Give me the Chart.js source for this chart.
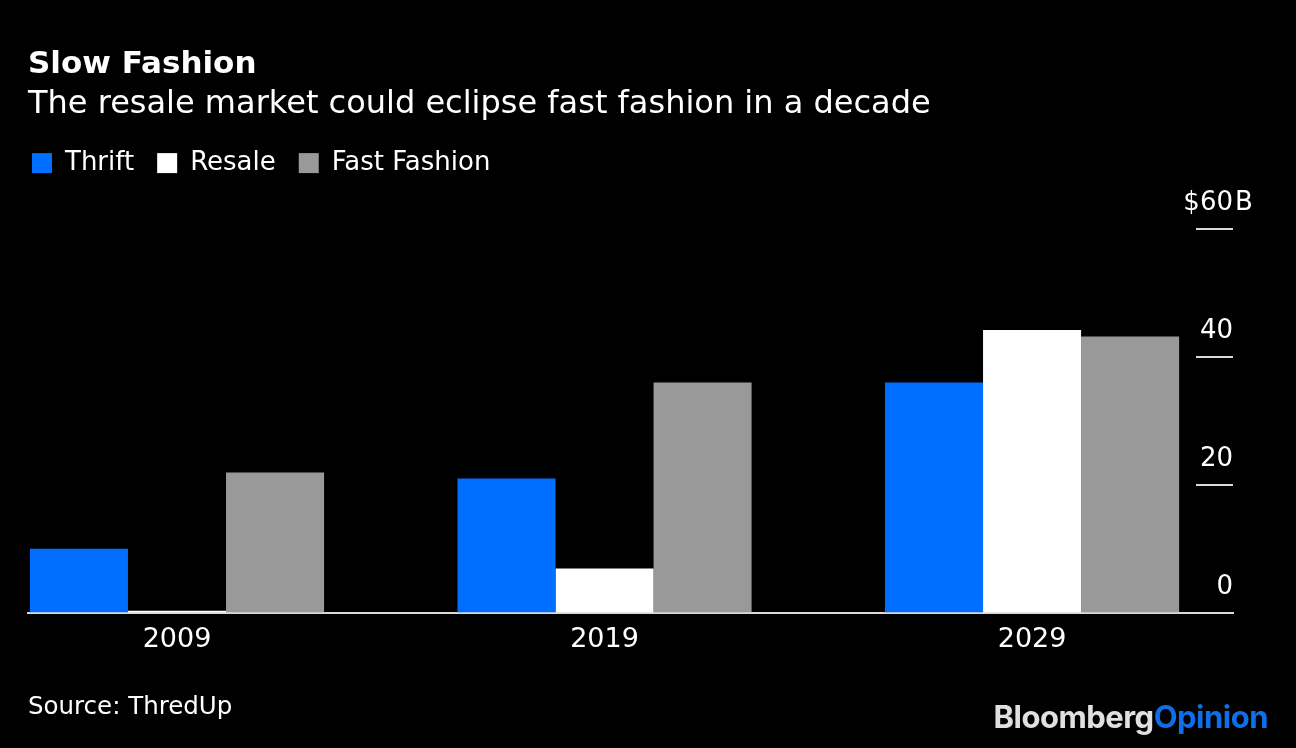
<!DOCTYPE html>
<html>
<head>
<meta charset="utf-8">
<script src="https://cdn.jsdelivr.net/npm/chart.js@4.4.1/dist/chart.umd.min.js"></script>
<style>
  html, body { margin: 0; padding: 0; background: #000; }
  #wrap { width: 1296px; height: 748px; position: relative; }
</style>
</head>
<body>
<div id="wrap"><canvas id="chart" width="1296" height="748"></canvas></div>
<script>
// ----- data (US$ billions) -----
const years = ["2009", "2019", "2029"];
const thrift = [10, 21, 36];
const resale = [0.3, 6.9, 44.2];
const fastFashion = [21.9, 36, 43.2];
const yTicks = [0, 20, 40, 60];

const FONT = "'DejaVu Sans', 'Liberation Sans', sans-serif";
const LOGO_FONT = "Inter, 'Liberation Sans', sans-serif";

function toPoints(values) {
  return values.map((v, i) => ({ x: i, y: v }));
}

// extra room between legend and plot, and pull legend flush left
const legendTweak = {
  id: 'legendTweak',
  beforeInit(chart) {
    const fit = chart.legend.fit;
    chart.legend.fit = function () {
      fit.call(this);
      this.height += 43;
    };
  },
  afterLayout(chart) {
    const shift = chart.options.plugins.legend.labels.padding - 4;
    chart.legend.left -= shift;
    chart.legend.right -= shift;
  }
};

// short tick marks + labels on the right, like the original
const rightAxis = {
  id: 'rightAxis',
  afterDraw(chart) {
    const { ctx, chartArea, scales: { y } } = chart;
    const right = chartArea.right;
    ctx.save();
    ctx.strokeStyle = '#d9d9d9';
    ctx.lineWidth = 2;
    ctx.fillStyle = '#ffffff';
    ctx.font = '26px ' + FONT;
    ctx.textBaseline = 'alphabetic';
    yTicks.forEach((t, i) => {
      const py = Math.round(y.getPixelForValue(t));
      if (t !== 0) {
        ctx.beginPath();
        ctx.moveTo(right - 37, py);
        ctx.lineTo(right, py);
        ctx.stroke();
      }
      const label = String(t);
      ctx.textAlign = 'right';
      ctx.fillText(label, right, py - 19);
      if (i === yTicks.length - 1) {
        const w = ctx.measureText(label).width;
        ctx.fillText('$', right - w, py - 19);
        ctx.textAlign = 'left';
        ctx.fillText('B', right + 2, py - 19);
      }
    });
    ctx.restore();
  }
};

// source line and logo
const footer = {
  id: 'footer',
  afterDraw(chart) {
    const { ctx } = chart;
    ctx.save();
    ctx.textBaseline = 'middle';
    ctx.fillStyle = '#ffffff';
    ctx.font = '24.5px ' + FONT;
    ctx.textAlign = 'left';
    ctx.fillText('Source: ThredUp', 28, 708);

    ctx.font = 'bold 31px ' + LOGO_FONT;
    ctx.letterSpacing = '-0.5px';
    ctx.textAlign = 'right';
    ctx.fillStyle = '#0f6fe8';
    ctx.fillText('Opinion', 1268, 719);
    const w = ctx.measureText('Opinion').width;
    ctx.fillStyle = '#e0e0e0';
    ctx.fillText('Bloomberg', 1268 - w, 719);
    ctx.restore();
  }
};

const ctx = document.getElementById('chart').getContext('2d');
const chart = new Chart(ctx, {
  type: 'bar',
  data: {
    datasets: [
      { label: 'Thrift', data: toPoints(thrift), backgroundColor: '#006fff', borderWidth: 0 },
      { label: 'Resale', data: toPoints(resale), backgroundColor: '#ffffff', borderWidth: 0 },
      { label: 'Fast Fashion', data: toPoints(fastFashion), backgroundColor: '#999999', borderWidth: 0 }
    ]
  },
  options: {
    responsive: false,
    animation: false,
    events: [],
    categoryPercentage: 0.688,
    barPercentage: 1,
    layout: { padding: { left: 28, right: 63, top: 0, bottom: 81 } },
    scales: {
      x: {
        type: 'linear',
        min: -0.3485,
        max: 2.47,
        offset: false,
        afterBuildTicks(axis) {
          axis.ticks = years.map((_, i) => ({ value: i }));
        },
        ticks: {
          color: '#ffffff',
          font: { family: FONT, size: 27 },
          padding: 11,
          autoSkip: false,
          maxRotation: 0,
          callback: (v) => years[v]
        },
        grid: { display: false, drawTicks: false },
        border: { display: true, color: '#d9d9d9', width: 2 }
      },
      y: {
        display: false,
        min: 0,
        max: 60
      }
    },
    plugins: {
      title: {
        display: true,
        text: 'Slow Fashion',
        align: 'start',
        color: '#ffffff',
        font: { family: FONT, size: 31, weight: 'bold' },
        padding: { top: 46, bottom: 2 }
      },
      subtitle: {
        display: true,
        text: 'The resale market could eclipse fast fashion in a decade',
        align: 'start',
        color: '#ffffff',
        font: { family: FONT, size: 32 },
        padding: { top: 0, bottom: 3.5 }
      },
      legend: {
        align: 'start',
        labels: {
          color: '#ffffff',
          boxWidth: 20,
          boxHeight: 20,
          padding: 23,
          font: { family: FONT, size: 26 }
        }
      },
      tooltip: { enabled: false }
    }
  },
  plugins: [legendTweak, rightAxis, footer]
});
</script>
</body>
</html>
